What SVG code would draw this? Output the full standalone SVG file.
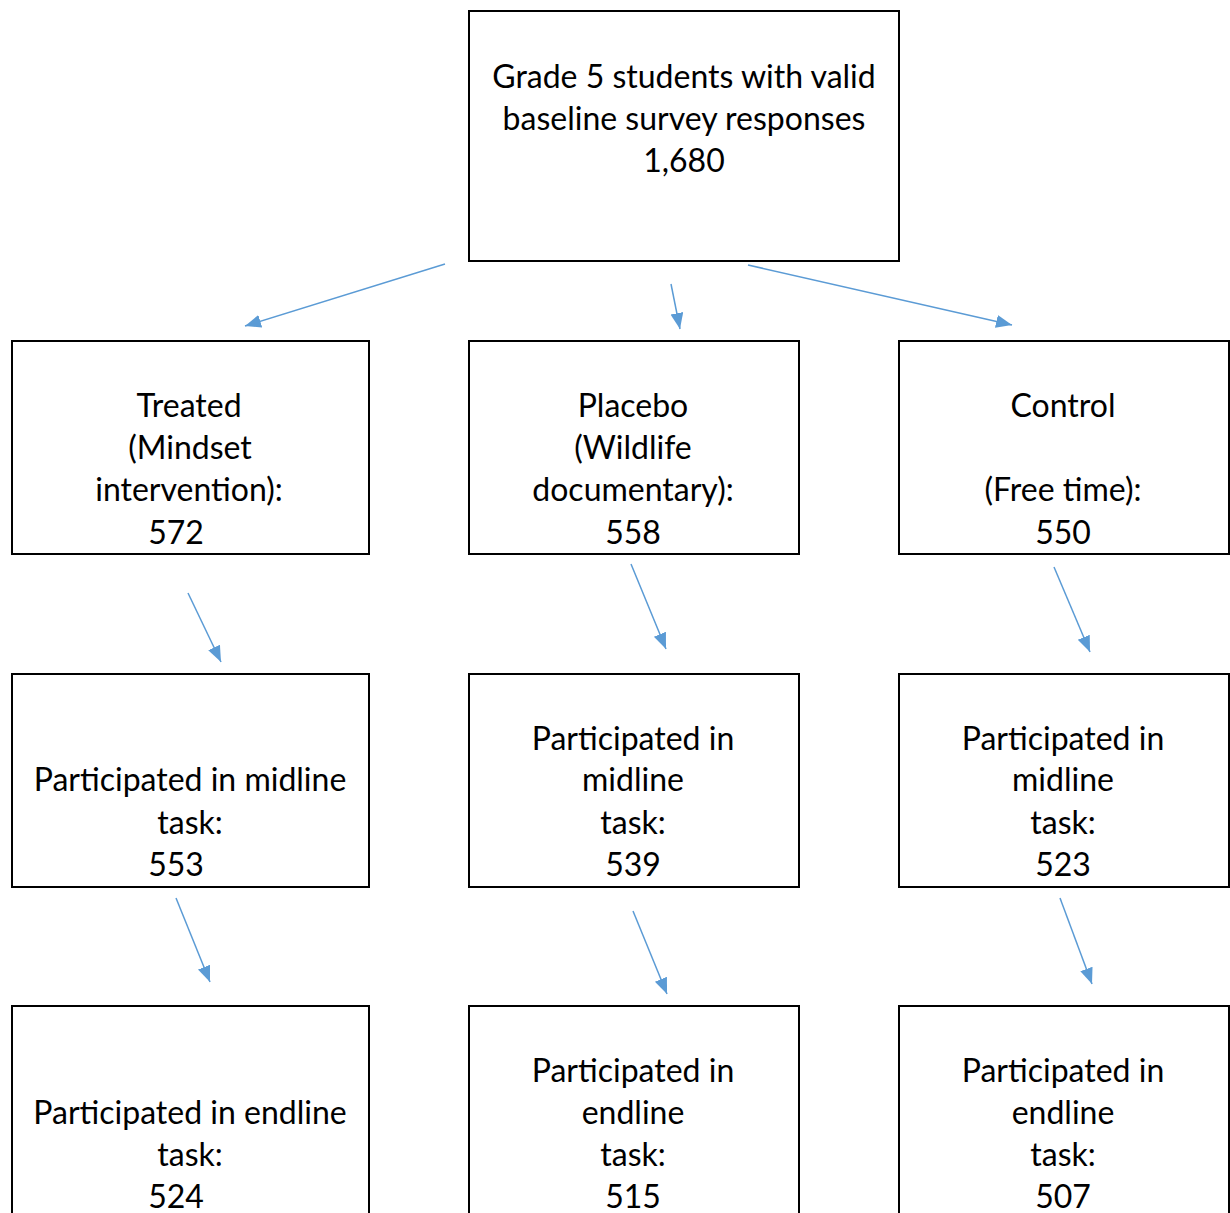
<svg xmlns="http://www.w3.org/2000/svg" width="1230" height="1213" viewBox="0 0 1230 1213">
<style>
.box{fill:#fff;stroke:#000;stroke-width:2}
.t{font-family:Lato,"Open Sans",sans-serif;font-size:32px;fill:#000;text-anchor:middle}
.arr{stroke:#5B9BD5;stroke-width:1.5;fill:none;marker-end:url(#ah)}
</style>
<defs>
<marker id="ah" markerUnits="userSpaceOnUse" markerWidth="18" markerHeight="14" refX="16" refY="6.5" orient="auto">
<path d="M0,0 L16,6.5 L0,13 z" fill="#5B9BD5"/>
</marker>
</defs>
<rect width="1230" height="1213" fill="#fff"/>
<g id="baseline">
<rect class="box" x="469" y="11" width="430" height="250"/>
<text class="t" x="684" y="88">Grade 5 students with valid</text>
<text class="t" x="684" y="130">baseline survey responses</text>
<text class="t" x="684" y="172">1,680</text>
</g>
<g id="treated">
<rect class="box" x="12" y="341" width="357" height="213"/>
<text class="t" x="189" y="417">Treated</text>
<text class="t" x="190" y="459">(Mindset</text>
<text class="t" x="189" y="501">intervention):</text>
<text class="t" x="176" y="544">572</text>
</g>
<g id="placebo">
<rect class="box" x="469" y="341" width="330" height="213"/>
<text class="t" x="633" y="417">Placebo</text>
<text class="t" x="633" y="459">(Wildlife</text>
<text class="t" x="633" y="501">documentary):</text>
<text class="t" x="633" y="544">558</text>
</g>
<g id="control">
<rect class="box" x="899" y="341" width="330" height="213"/>
<text class="t" x="1063" y="417">Control</text>
<text class="t" x="1063" y="501">(Free time):</text>
<text class="t" x="1063" y="544">550</text>
</g>
<g id="treated-mid">
<rect class="box" x="12" y="674" width="357" height="213"/>
<text class="t" x="190" y="791">Participated in midline</text>
<text class="t" x="190" y="834">task:</text>
<text class="t" x="176" y="876">553</text>
</g>
<g id="placebo-mid">
<rect class="box" x="469" y="674" width="330" height="213"/>
<text class="t" x="633" y="750">Participated in</text>
<text class="t" x="633" y="791">midline</text>
<text class="t" x="633" y="834">task:</text>
<text class="t" x="633" y="876">539</text>
</g>
<g id="control-mid">
<rect class="box" x="899" y="674" width="330" height="213"/>
<text class="t" x="1063" y="750">Participated in</text>
<text class="t" x="1063" y="791">midline</text>
<text class="t" x="1063" y="834">task:</text>
<text class="t" x="1063" y="876">523</text>
</g>
<g id="treated-end">
<rect class="box" x="12" y="1006" width="357" height="230"/>
<text class="t" x="190" y="1124">Participated in endline</text>
<text class="t" x="190" y="1166">task:</text>
<text class="t" x="176" y="1208">524</text>
</g>
<g id="placebo-end">
<rect class="box" x="469" y="1006" width="330" height="230"/>
<text class="t" x="633" y="1082">Participated in</text>
<text class="t" x="633" y="1124">endline</text>
<text class="t" x="633" y="1166">task:</text>
<text class="t" x="633" y="1208">515</text>
</g>
<g id="control-end">
<rect class="box" x="899" y="1006" width="330" height="230"/>
<text class="t" x="1063" y="1082">Participated in</text>
<text class="t" x="1063" y="1124">endline</text>
<text class="t" x="1063" y="1166">task:</text>
<text class="t" x="1063" y="1208">507</text>
</g>
<g id="connectors">
<line class="arr" x1="445" y1="264" x2="245" y2="326"/>
<line class="arr" x1="671" y1="284" x2="680" y2="329"/>
<line class="arr" x1="748" y1="265" x2="1012" y2="325"/>
<line class="arr" x1="188" y1="593" x2="221" y2="662"/>
<line class="arr" x1="631" y1="564" x2="666" y2="649"/>
<line class="arr" x1="1054" y1="567" x2="1090" y2="652"/>
<line class="arr" x1="176" y1="898" x2="210" y2="982"/>
<line class="arr" x1="633" y1="911" x2="667" y2="994"/>
<line class="arr" x1="1060" y1="898" x2="1092" y2="984"/>
</g>
</svg>
